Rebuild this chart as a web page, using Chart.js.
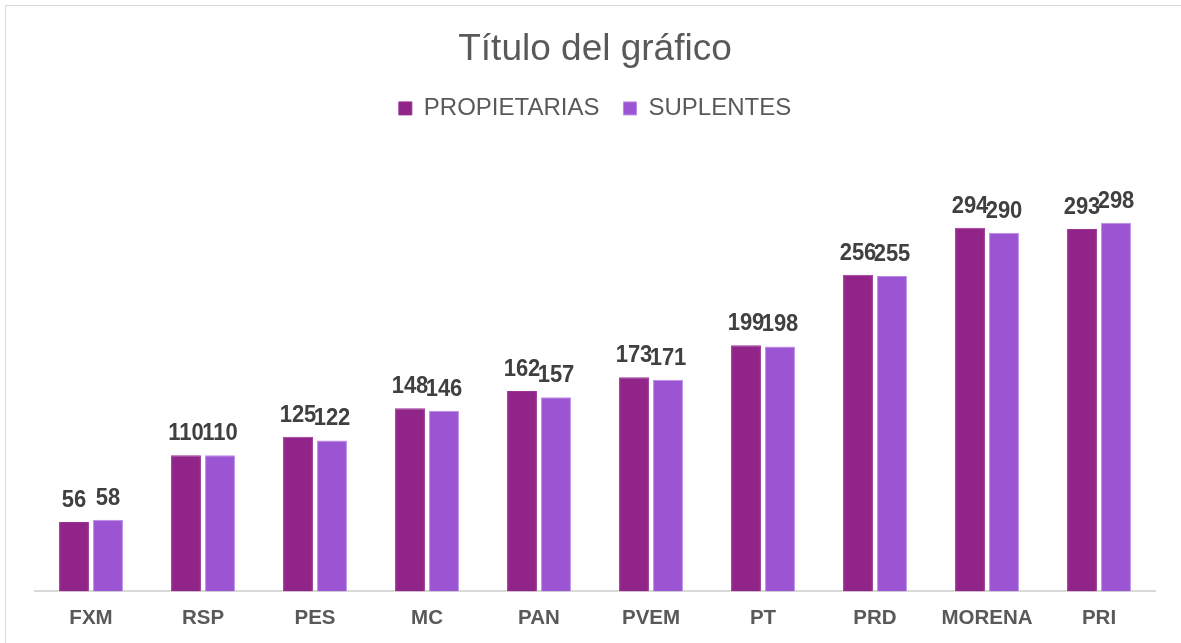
<!DOCTYPE html>
<html>
<head>
<meta charset="utf-8">
<script src="https://cdn.jsdelivr.net/npm/chart.js@4/dist/chart.umd.min.js"></script>
<style>
  html, body { margin: 0; padding: 0; background: #fff; }
  #wrap { position: relative; width: 1181px; height: 643px; overflow: hidden; }
  #frame { position: absolute; left: 5px; top: 5px; width: 1200px; height: 700px; border: 1px solid #d9d9d9; box-sizing: border-box; }
  canvas { position: absolute; left: 0; top: 0; }
</style>
</head>
<body>
<div id="wrap">
  <div id="frame"></div>
  <canvas id="myChart" width="1181" height="643"></canvas>
</div>
<script>
const partidos = ['FXM', 'RSP', 'PES', 'MC', 'PAN', 'PVEM', 'PT', 'PRD', 'MORENA', 'PRI'];
const propietarias = [56, 110, 125, 148, 162, 173, 199, 256, 294, 293];
const suplentes = [58, 110, 122, 146, 157, 171, 198, 255, 290, 298];

const ctx = document.getElementById('myChart');

// value labels above each bar (a bit taller than wide, like the original)
const barLabels = {
  id: 'barLabels',
  afterDatasetsDraw(chart) {
    const c = chart.ctx;
    chart.data.datasets.forEach((ds, i) => {
      chart.getDatasetMeta(i).data.forEach((bar, j) => {
        c.save();
        c.translate(bar.x, bar.y - 15);
        c.scale(1, 1.06);
        c.font = 'bold 22px "Liberation Sans", Arial, sans-serif';
        c.fillStyle = '#404040';
        c.textAlign = 'center';
        c.textBaseline = 'alphabetic';
        c.fillText(ds.data[j], 0, 0);
        c.restore();
      });
    });
  }
};

// extra room under the legend
const legendGap = {
  id: 'legendGap',
  beforeInit(chart) {
    const fit = chart.legend.fit;
    chart.legend.fit = function () {
      fit.bind(chart.legend)();
      this.height += 28;
    };
  }
};

new Chart(ctx, {
  type: 'bar',
  data: {
    labels: partidos,
    datasets: [{
      label: 'PROPIETARIAS',
      data: propietarias,
      backgroundColor: '#902489',
      borderColor: '#9a3393',
      borderWidth: 1,
      categoryPercentage: 0.607,
      barPercentage: 0.88
    }, {
      label: 'SUPLENTES',
      data: suplentes,
      backgroundColor: '#9b55d3',
      borderColor: '#b98ae6',
      borderWidth: 1,
      categoryPercentage: 0.607,
      barPercentage: 0.88
    }]
  },
  options: {
    responsive: false,
    animation: false,
    layout: { padding: { left: 35, right: 26, top: 0, bottom: -3 } },
    plugins: {
      title: {
        display: true,
        text: 'Título del gráfico',
        color: '#595959',
        font: { family: '"Liberation Sans", Arial, sans-serif', size: 37, weight: 'normal' },
        padding: { top: 28, bottom: 0 }
      },
      legend: {
        position: 'top',
        labels: {
          color: '#595959',
          font: { family: '"Liberation Sans", Arial, sans-serif', size: 24 },
          boxWidth: 13,
          boxHeight: 13,
          padding: 24
        }
      },
      tooltip: { enabled: false }
    },
    scales: {
      x: {
        grid: { display: false, drawTicks: false },
        border: { display: true, color: '#d9d9d9', width: 2 },
        ticks: {
          color: '#595959',
          padding: 15,
          font: { family: '"Liberation Sans", Arial, sans-serif', size: 20.5, weight: 'bold' }
        }
      },
      y: {
        display: false,
        min: 0,
        max: 350
      }
    }
  },
  plugins: [barLabels, legendGap]
});
</script>
</body>
</html>
